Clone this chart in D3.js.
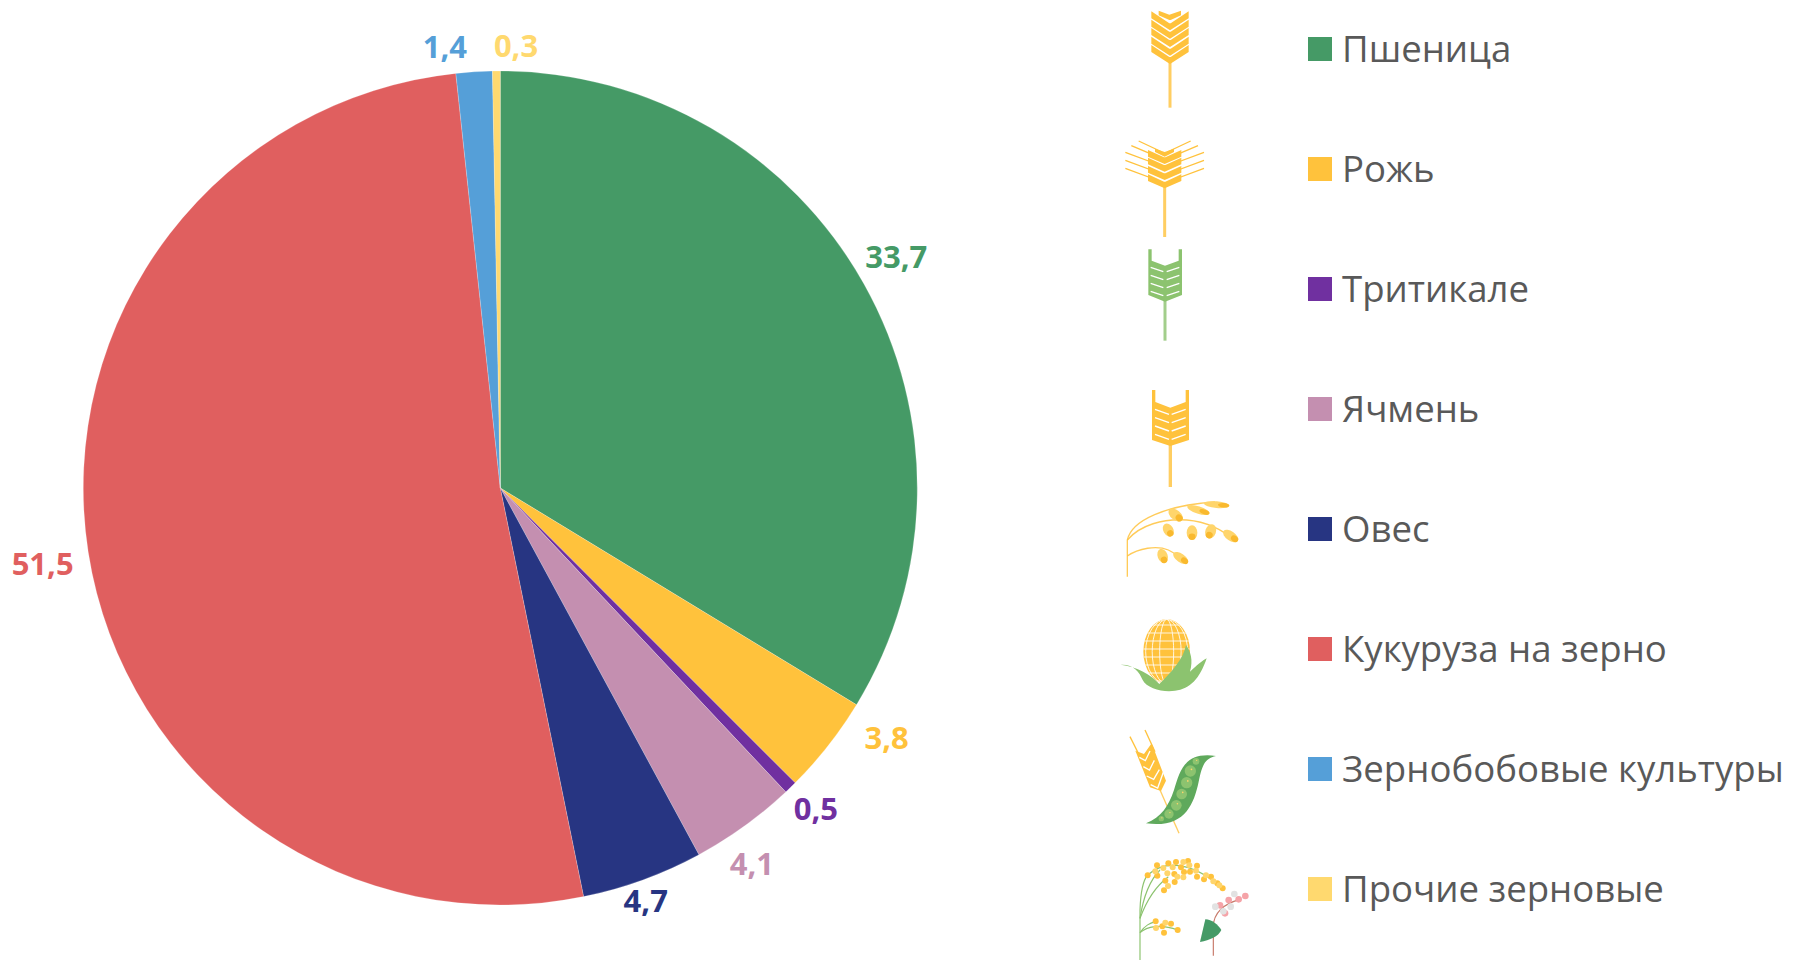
<!DOCTYPE html>
<html><head><meta charset="utf-8">
<script src="https://cdn.jsdelivr.net/npm/d3@7"></script>
<style>html,body{margin:0;padding:0;background:#fff}svg{display:block}</style>
</head><body><svg id="c" width="1793" height="960"></svg>
<script>
const categories=["Пшеница","Рожь","Тритикале","Ячмень","Овес","Кукуруза на зерно","Зернобобовые культуры","Прочие зерновые"];
const values=[33.7,3.8,0.5,4.1,4.7,51.5,1.4,0.3];
const valueLabels=["33,7","3,8","0,5","4,1","4,7","51,5","1,4","0,3"];
const colors=["#459A66","#FFC23C","#7030A0","#C48FB0","#273582","#E05F5F","#559FD8","#FFD96F"];

const FONT="'Open Sans',sans-serif";
const svg=d3.select("#c");
const cx=500.3,cy=488,R=417;
const labelRadius=452;
const labelDx=[2,31,1,-13,-9,-11,-27,20];
const labelDy=[-10,-29,-4,9,-12,7,10,10];

const pie=d3.pie().value(d=>d).sort(null)(values);
const arc=d3.arc().innerRadius(0).outerRadius(R);
const gp=svg.append("g").attr("transform",`translate(${cx},${cy})`);
gp.selectAll("path").data(pie).join("path").attr("d",arc)
  .attr("fill",(d,i)=>colors[i]).attr("stroke","#fff").attr("stroke-width",0.4).attr("stroke-opacity",.5);
gp.selectAll("text").data(pie).join("text")
  .attr("x",(d,i)=>labelRadius*Math.sin((d.startAngle+d.endAngle)/2)+labelDx[i])
  .attr("y",(d,i)=>-labelRadius*Math.cos((d.startAngle+d.endAngle)/2)+labelDy[i])
  .attr("dy","0.36em").attr("text-anchor","middle").attr("font-family",FONT).attr("font-weight",700)
  .attr("font-size",31).attr("fill",(d,i)=>colors[i]).text((d,i)=>valueLabels[i]);

const legendY=d3.scalePoint().domain(categories).range([49,889]);
const lg=svg.append("g").selectAll("g").data(categories).join("g")
  .attr("transform",d=>`translate(0,${legendY(d)})`);
lg.append("rect").attr("x",1308).attr("y",-12).attr("width",24).attr("height",24).attr("fill",(d,i)=>colors[i]);
lg.append("text").attr("x",1342).attr("dy","0.36em").attr("font-family",FONT).attr("font-size",36.6)
  .attr("fill","#595959").text(d=>d);

/* decorative crop icons, drawn in a 3x local space */
const Y="#FFC23C",G="#8CC36F";
function layer(ox,oy){return svg.append("g").attr("transform",`translate(${ox},${oy}) scale(${1/3})`);}
function chevrons(g,x,tips,hw,drop,H,fill){
  tips.forEach(t=>{
    g.append("path").attr("d",`M${x-hw},${t-drop-H} L${x-2},${t-H} L${x+2},${t-H} L${x+hw},${t-drop-H} L${x+hw},${t-drop} L${x},${t} L${x-hw},${t-drop}Z`).attr("fill",fill);
  });
}
function stem(g,x,y1,y2,c,w=9){g.append("line").attr("x1",x).attr("x2",x).attr("y1",y1).attr("y2",y2).attr("stroke",c).attr("stroke-width",w).attr("opacity",.8);}

{const g=layer(1100,0);
// Пшеница
 stem(g,210,185,323,Y);
 chevrons(g,210,[192,167,141,116,91],56,36,21,Y);
 g.append("path").attr("d","M176,32 L208,44 L243,32 L243,46 L212,60 L208,60 L176,46Z").attr("fill",Y);
// Рожь
 stem(g,194,555,711,Y);
 chevrons(g,194,[565,540,515,492],50,22,20,Y);
 g.append("path").attr("d","M165,446 L194,456 L222,446 L222,456 L194,470 L165,456Z").attr("fill",Y);
 [[505,540],[481,516],[457,492],[437,470],[423,450]].forEach(([y,y2],i)=>{
   const hw=[118,118,118,100,78][i];
   [-1,1].forEach(s=>g.append("line").attr("x1",194+s*hw).attr("y1",y).attr("x2",194+s*8).attr("y2",y2+6).attr("stroke",Y).attr("stroke-width",4));
 });
// Тритикале
 stem(g,195,900,1022,G);
 g.append("path").attr("d","M145,748 H155 V782 L195,797 L236,782 V748 H246 V885 L195,905 L145,885Z").attr("fill",G);
 d3.range(4).forEach(i=>{const y=802+i*24;
  [-1,1].forEach(s=>g.append("line").attr("x1",195+s*5).attr("y1",y+13).attr("x2",195+s*43).attr("y2",y).attr("stroke","#fff").attr("stroke-width",4));});
}
// Ячмень
{const g=layer(1100,370);stem(g,211,220,351,Y,10);
 g.append("path").attr("d","M156,60 H166 V96 L211,113 L257,96 V60 H267 V210 L211,228 L156,210Z").attr("fill",Y);
 d3.range(4).forEach(i=>{const y=118+i*25;
  [-1,1].forEach(s=>g.append("line").attr("x1",211+s*4).attr("y1",y+15).attr("x2",211+s*46).attr("y2",y).attr("stroke","#fff").attr("stroke-width",4));});
// Овес
 const Yl="#FFD56B";
 ["M82,620 V510 C95,450 200,405 345,396","M82,510 C120,465 190,445 260,450 C320,455 370,480 400,510","M82,558 C115,535 170,525 205,540 C225,550 240,560 250,575"]
  .forEach(d=>g.append("path").attr("d",d).attr("fill","none").attr("stroke",Y).attr("stroke-width",4).attr("opacity",.85));
 [[227,435,25,15,40],[295,420,35,11,18],[350,404,38,10,5],[205,480,21,15,60],[276,488,22,16,90],[332,484,22,16,110],[392,498,26,14,35],[188,558,22,15,70],[242,564,26,13,35]]
  .forEach(([x,y,a,b,r])=>{
   g.append("ellipse").attr("cx",x).attr("cy",y).attr("rx",a).attr("ry",b).attr("fill",Yl).attr("transform",`rotate(${r} ${x} ${y})`);
   const rad=r*Math.PI/180,x2=x+a*.55*Math.cos(rad),y2=y+a*.55*Math.sin(rad);
   g.append("ellipse").attr("cx",x2).attr("cy",y2).attr("rx",a*.45).attr("ry",b*.65).attr("fill","#F9B92E").attr("transform",`rotate(${r} ${x2} ${y2})`);
  });
// Кукуруза
 g.append("ellipse").attr("cx",200).attr("cy",845).attr("rx",70).attr("ry",97).attr("fill",Y);
 const clip=g.append("clipPath").attr("id","corn");clip.append("ellipse").attr("cx",200).attr("cy",845).attr("rx",70).attr("ry",97);
 const cg=g.append("g").attr("clip-path","url(#corn)");
 d3.range(765,945,24).forEach(y=>cg.append("line").attr("x1",130).attr("x2",270).attr("y1",y).attr("y2",y).attr("stroke","#fff").attr("stroke-width",2.5));
 [0,0.3,0.62,0.9].forEach(k=>cg.append("ellipse").attr("cx",200).attr("cy",845).attr("rx",k*70).attr("ry",97).attr("fill","none").attr("stroke","#fff").attr("stroke-width",2.5));
 g.append("path").attr("d","M62,884 C100,882 118,905 128,930 C140,955 190,968 225,962 C270,958 300,925 320,865 C295,880 282,895 270,905 C280,870 272,845 258,825 C250,870 210,910 178,942 C155,915 110,890 62,884Z").attr("fill",G);
}
{const g=layer(1100,710);
// Зернобобовые
 g.append("line").attr("x1",180).attr("y1",240).attr("x2",237).attr("y2",370).attr("stroke",Y).attr("stroke-width",4).attr("opacity",.8);
 g.append("line").attr("x1",90).attr("y1",80).attr("x2",125).attr("y2",150).attr("stroke",Y).attr("stroke-width",4);
 g.append("line").attr("x1",135).attr("y1",60).attr("x2",165).attr("y2",125).attr("stroke",Y).attr("stroke-width",4);
 g.append("path").attr("d","M106,122 L132,132 L155,100 L198,212 L183,243 L150,232 Z").attr("fill",Y);
 [[118,142,150,148],[130,170,163,176],[140,198,178,204],[152,224,190,212]].forEach(([a,b,c,d])=>{
  g.append("path").attr("d",`M${a},${b} L${(a+c)/2+2},${b+10} L${c},${d-25}`).attr("fill","none").attr("stroke","#fff").attr("stroke-width",4);});
 g.append("path").attr("d","M138,340 C185,320 205,290 222,240 C240,180 255,125 348,138 C310,145 305,175 296,215 C280,290 250,355 138,340Z").attr("fill","#5FA95C");
 [[288,154,10],[271,183,17],[260,218,17],[245,252,16],[229,286,16],[207,312,14],[184,326,8]].forEach(([x,y,r])=>{
  g.append("circle").attr("cx",x).attr("cy",y).attr("r",r).attr("fill",G);
  g.append("circle").attr("cx",x+r*.2).attr("cy",y-r*.3).attr("r",Math.max(2,r*.15)).attr("fill","#FFD56B");});
// Прочие: просо
 const st=["M120,750 V600 C122,540 130,510 143,495","M120,625 C130,560 150,510 180,480","M120,625 C140,570 165,530 205,500","M120,668 C135,645 150,640 168,634","M120,668 C140,650 180,640 233,660","M143,495 C180,460 260,440 368,535"];
 st.forEach(d=>g.append("path").attr("d",d).attr("fill","none").attr("stroke",G).attr("stroke-width",3.5));
 [[143,496],[171,466],[205,460],[228,456],[264,453],[291,467],[172,497],[196,512],[224,516],[252,486],[270,485],[291,500],[312,508],[333,500],[352,520],[368,535],[192,541],[167,634],[213,641],[233,660],[192,668],[187,649],[223,492],[243,472]]
  .forEach(([x,y])=>g.append("circle").attr("cx",x).attr("cy",y).attr("r",9).attr("fill",Y));
 [[166,484],[190,474],[218,472],[250,456],[268,466],[288,482],[318,496],[340,514],[358,526],[204,528],[202,490],[232,500],[250,502],[168,654],[196,638]]
  .forEach(([x,y])=>g.append("circle").attr("cx",x).attr("cy",y).attr("r",9).attr("fill","#FFD56B"));
// гречиха
 g.append("path").attr("d","M340,737 V650 C340,625 350,610 362,598 C375,585 395,575 420,568").attr("fill","none").attr("stroke","#C8796A").attr("stroke-width",3.5);
 g.append("path").attr("d","M300,696 L316,628 C335,628 355,645 364,660 C355,680 330,690 300,696Z").attr("fill","#459A66");
 [[360,586,"#F5A3A8"],[386,570,"#F5A3A8"],[416,568,"#F5A3A8"],[436,558,"#F5A3A8"],[375,610,"#F5A3A8"],[346,590,"#E2E2E2"],[392,590,"#E2E2E2"],[403,552,"#E2E2E2"],[370,604,"#E2E2E2"]]
  .forEach(([x,y,c])=>g.append("circle").attr("cx",x).attr("cy",y).attr("r",10).attr("fill",c));
}
</script></body></html>
